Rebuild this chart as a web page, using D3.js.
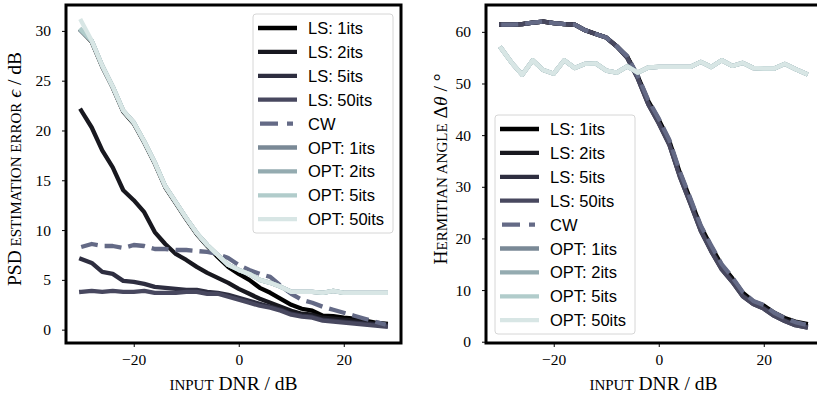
<!DOCTYPE html>
<html>
<head>
<meta charset="utf-8">
<script src="https://cdn.jsdelivr.net/npm/d3@7"></script>
<style>
  body { margin: 0; background: #fff; }
  svg { display: block; }
  .tick text { font-family: "Liberation Serif", serif; font-size: 15.5px; fill: #000; }
  .axis-label { font-family: "Liberation Serif", serif; font-size: 19.5px; fill: #000; }
  .sc { text-transform: uppercase; font-size: 15px; }
  .legend text { font-family: "Liberation Sans", sans-serif; font-size: 16.5px; fill: #000; }
</style>
</head>
<body>
<svg id="chart" width="817" height="399"></svg>
<script>
// input DNR in dB
const dnr = [-30, -28, -26, -24, -22, -20, -18, -16, -14, -12, -10, -8, -6, -4, -2,
  0, 2, 4, 6, 8, 10, 12, 14, 16, 18, 20, 22, 24, 26, 28];

const labels = ['LS: 1its', 'LS: 2its', 'LS: 5its', 'LS: 50its', 'CW',
  'OPT: 1its', 'OPT: 2its', 'OPT: 5its', 'OPT: 50its'];

// left panel: PSD estimation error / dB
const psdLS1 = [30.0, 28.9, 26.4, 24.3, 21.9, 20.7, 18.8, 16.7, 14.3, 12.7, 11.1, 9.6, 8.4, 7.3, 6.3,
  5.6, 5.0, 4.2, 3.7, 3.1, 2.5, 2.1, 1.9, 1.4, 1.35, 1.2, 1.1, 0.9, 0.7, 0.6];
const psdLS2 = [22.0, 20.3, 18.0, 16.3, 14.0, 13.0, 11.8, 9.8, 8.6, 7.6, 7.0, 6.3, 5.7, 5.2, 4.7,
  4.1, 3.6, 3.1, 2.7, 2.3, 1.9, 1.6, 1.5, 1.2, 1.1, 1.0, 0.9, 0.7, 0.6, 0.5];
const psdLS5 = [7.1, 6.7, 5.8, 5.6, 4.9, 4.8, 4.6, 4.3, 4.2, 4.1, 4.0, 4.0, 3.8, 3.7, 3.5,
  3.2, 2.9, 2.6, 2.3, 2.0, 1.6, 1.4, 1.3, 1.0, 0.9, 0.8, 0.7, 0.6, 0.5, 0.4];
const psdLS50 = [3.8, 3.9, 3.8, 3.9, 3.8, 3.8, 3.9, 3.7, 3.7, 3.7, 3.8, 3.8, 3.6, 3.6, 3.3,
  3.0, 2.7, 2.4, 2.2, 1.9, 1.5, 1.3, 1.2, 0.9, 0.8, 0.7, 0.6, 0.5, 0.4, 0.3];
const psdCW = [8.3, 8.6, 8.4, 8.4, 8.2, 8.5, 8.4, 8.1, 8.1, 8.0, 8.0, 7.9, 7.8, 7.6, 7.2,
  6.5, 6.0, 5.6, 5.3, 4.4, 3.6, 3.0, 2.7, 2.3, 2.0, 1.7, 1.4, 1.1, 0.8, 0.5];
const psdOPT1 = [30.0, 29.0, 26.5, 24.4, 22.0, 20.8, 18.9, 16.8, 14.4, 12.8, 11.2, 9.7, 8.5, 7.5, 6.5,
  6.0, 5.6, 5.0, 4.7, 4.3, 3.8, 3.8, 3.8, 3.7, 3.9, 3.7, 3.7, 3.7, 3.7, 3.7];
const psdOPT2 = [30.0, 29.0, 26.5, 24.4, 22.0, 20.8, 18.9, 16.8, 14.4, 12.8, 11.2, 9.7, 8.5, 7.5, 6.5,
  6.0, 5.6, 5.0, 4.7, 4.3, 3.8, 3.8, 3.8, 3.7, 3.9, 3.7, 3.7, 3.7, 3.7, 3.7];
const psdOPT5 = [30.1, 29.0, 26.5, 24.4, 22.0, 20.8, 18.9, 16.8, 14.4, 12.8, 11.2, 9.7, 8.5, 7.5, 6.5,
  6.0, 5.6, 5.0, 4.7, 4.3, 3.8, 3.8, 3.8, 3.7, 3.9, 3.7, 3.7, 3.7, 3.7, 3.7];
const psdOPT50 = [31.0, 29.0, 26.5, 24.4, 22.0, 20.8, 18.9, 16.8, 14.4, 12.8, 11.2, 9.7, 8.5, 7.5, 6.5,
  6.0, 5.6, 5.0, 4.7, 4.3, 3.8, 3.8, 3.8, 3.7, 3.9, 3.7, 3.7, 3.7, 3.7, 3.7];

// right panel: Hermitian angle / degrees
const angLS1 = [61.4, 61.4, 61.5, 61.8, 62.0, 61.7, 61.5, 61.4, 60.3, 59.6, 58.9, 57.2, 55.2, 51.4, 46.6,
  43.0, 38.9, 32.8, 27.6, 22.3, 18.4, 14.8, 12.3, 9.5, 7.8, 7.0, 5.6, 4.6, 3.9, 3.5];
const angLS2 = [61.4, 61.4, 61.5, 61.8, 62.0, 61.7, 61.5, 61.4, 60.3, 59.6, 58.9, 57.2, 55.1, 51.2, 46.3,
  42.6, 38.5, 32.4, 27.2, 21.9, 17.9, 14.4, 12.0, 9.1, 7.5, 6.7, 5.3, 4.3, 3.5, 3.1];
const angLS5 = [61.4, 61.4, 61.5, 61.8, 62.0, 61.7, 61.5, 61.4, 60.3, 59.6, 58.9, 57.2, 55.0, 51.0, 46.0,
  42.3, 38.2, 32.0, 26.8, 21.5, 17.5, 14.0, 11.6, 8.8, 7.3, 6.4, 5.0, 4.0, 3.2, 2.8];
const angLS50 = [61.4, 61.4, 61.5, 61.8, 62.0, 61.7, 61.5, 61.4, 60.3, 59.6, 58.9, 57.2, 55.0, 51.0, 46.0,
  42.3, 38.2, 32.0, 26.8, 21.5, 17.5, 14.0, 11.6, 8.8, 7.3, 6.4, 5.0, 4.0, 3.2, 2.8];
const angCW = [61.4, 61.4, 61.5, 61.8, 62.0, 61.7, 61.5, 61.4, 60.3, 59.6, 58.9, 57.2, 55.3, 51.5, 46.8,
  43.2, 39.1, 33.0, 27.8, 22.5, 18.6, 15.0, 12.5, 9.6, 7.9, 7.1, 5.6, 4.6, 3.8, 3.3];
const angOPT1 = [56.8, 54.0, 51.7, 54.5, 52.6, 51.9, 54.5, 53.0, 53.8, 53.9, 52.5, 52.1, 53.3, 52.1, 53.1,
  53.2, 53.2, 53.2, 53.2, 54.2, 53.2, 54.5, 53.4, 54.0, 53.0, 52.9, 52.9, 53.8, 52.8, 51.9];
const angOPT2 = [56.8, 54.0, 51.7, 54.5, 52.6, 51.9, 54.5, 53.0, 53.8, 53.9, 52.5, 52.1, 53.3, 52.1, 53.1,
  53.2, 53.2, 53.2, 53.2, 54.2, 53.2, 54.5, 53.4, 54.0, 53.0, 52.9, 52.9, 53.8, 52.8, 51.9];
const angOPT5 = [56.8, 54.0, 51.7, 54.5, 52.6, 51.9, 54.5, 53.0, 53.8, 53.9, 52.5, 52.1, 53.3, 52.1, 53.1,
  53.2, 53.2, 53.2, 53.2, 54.2, 53.2, 54.5, 53.4, 54.0, 53.0, 52.9, 52.9, 53.8, 52.8, 51.9];
const angOPT50 = [56.8, 54.0, 51.7, 54.5, 52.6, 51.9, 54.5, 53.0, 53.8, 53.9, 52.5, 52.1, 53.3, 52.1, 53.1,
  53.2, 53.2, 53.2, 53.2, 54.2, 53.2, 54.5, 53.4, 54.0, 53.0, 52.9, 52.9, 53.8, 52.8, 51.9];

const xTicks = [-20, 0, 20];
const psdTicks = [0, 5, 10, 15, 20, 25, 30];
const angTicks = [0, 10, 20, 30, 40, 50, 60];

// bone colormap samples
const colors = ['#000000', '#18181f', '#2e2e40', '#48485f', '#646a86',
  '#7a8996', '#94abb0', '#b1cccb', '#d8e6e5'];

const svg = d3.select('#chart');
svg.append('rect').attr('width', 817).attr('height', 399).attr('fill', '#fff');

function panel(opts) {
  const { left, right, top, bottom, yDomain, yTicks, series, yLabel, legendPos, labelX } = opts;

  const x = d3.scaleLinear().domain([-32.9, 30.9]).range([left, right]);
  const y = d3.scaleLinear().domain(yDomain).range([bottom, top]);

  const g = svg.append('g');

  const line = d3.line()
    .x((d, i) => x(dnr[i]))
    .y(d => y(d));

  series.forEach((s, i) => {
    g.append('path')
      .attr('d', line(s))
      .attr('fill', 'none')
      .attr('stroke', colors[i])
      .attr('stroke-width', 4.3)
      .attr('stroke-linejoin', 'round')
      .attr('stroke-linecap', i === 4 ? 'butt' : 'square')
      .attr('stroke-dasharray', i === 4 ? '17,7' : null);
  });

  // axes
  const xAxis = d3.axisBottom(x).tickValues(xTicks).tickSize(4).tickPadding(7)
    .tickFormat(d => d < 0 ? '\u2212' + Math.abs(d) : d);
  g.append('g').attr('transform', `translate(0,${bottom})`).call(xAxis)
    .call(a => a.select('.domain').remove());

  const yAxis = d3.axisLeft(y).tickValues(yTicks).tickSize(4).tickPadding(11);
  g.append('g').attr('transform', `translate(${left},0)`).call(yAxis)
    .call(a => a.select('.domain').remove());

  g.selectAll('.tick line').attr('stroke', '#000').attr('stroke-width', 1);

  // frame
  g.append('rect')
    .attr('x', left).attr('y', top)
    .attr('width', right - left).attr('height', bottom - top)
    .attr('fill', 'none').attr('stroke', '#000').attr('stroke-width', 3);

  // x label
  const xl = g.append('text').attr('class', 'axis-label')
    .attr('x', (left + right) / 2).attr('y', 390).attr('text-anchor', 'middle');
  xl.append('tspan').attr('class', 'sc').text('input');
  xl.append('tspan').text(' DNR / dB');

  // y label
  const yl = g.append('text').attr('class', 'axis-label')
    .attr('transform', `translate(${labelX},${(top + bottom) / 2 - 5}) rotate(-90)`)
    .attr('text-anchor', 'middle');
  yLabel.forEach(p => {
    const t = yl.append('tspan').text(p.t);
    if (p.sc) t.attr('class', 'sc');
    if (p.it) t.style('font-style', 'italic');
  });

  // legend
  const lg = g.append('g').attr('class', 'legend')
    .attr('transform', `translate(${legendPos[0]},${legendPos[1]})`);
  lg.append('rect')
    .attr('width', 140).attr('height', 219).attr('rx', 3)
    .attr('fill', '#fff').attr('fill-opacity', 0.85)
    .attr('stroke', '#d6d6d6').attr('stroke-width', 1);
  labels.forEach((lab, i) => {
    const yy = 14 + i * 23.9;
    lg.append('line')
      .attr('x1', i === 4 ? 7 : 5).attr('x2', 44).attr('y1', yy).attr('y2', yy)
      .attr('stroke', colors[i]).attr('stroke-width', 4.3)
      .attr('stroke-dasharray', i === 4 ? '18,9,6,20' : null);
    lg.append('text').attr('x', 55).attr('y', yy + 6).text(lab);
  });
}

panel({
  left: 66, right: 401, top: 5, bottom: 343,
  yDomain: [-1.34, 32.6], yTicks: psdTicks,
  series: [psdLS1, psdLS2, psdLS5, psdLS50, psdCW, psdOPT1, psdOPT2, psdOPT5, psdOPT50],
  yLabel: [{ t: 'PSD' }, { t: ' estimation error', sc: true }, { t: ' \u03F5', it: true }, { t: ' / dB' }],
  legendPos: [253, 14], labelX: 21
});

panel({
  left: 486, right: 821, top: 5, bottom: 343,
  yDomain: [-0.25, 65.2], yTicks: angTicks,
  series: [angLS1, angLS2, angLS5, angLS50, angCW, angOPT1, angOPT2, angOPT5, angOPT50],
  yLabel: [{ t: 'H' }, { t: 'ermitian angle', sc: true }, { t: ' \u0394' }, { t: '\u03B8', it: true }, { t: ' / \u00B0' }],
  legendPos: [495, 115], labelX: 447
});
</script>
</body>
</html>
